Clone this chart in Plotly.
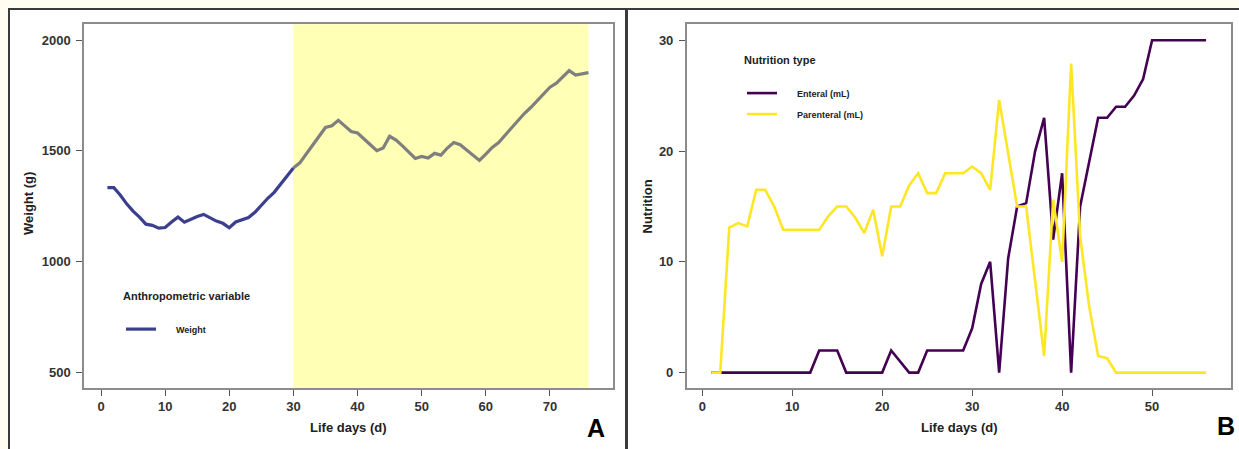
import plotly.graph_objects as go

# ---------------- data ----------------
weight_days = list(range(1, 77))
weight_g = [1333, 1333, 1300, 1260, 1227, 1200, 1168, 1163, 1150, 1153,
            1178, 1200, 1177, 1192, 1203, 1212, 1195, 1182, 1172, 1152,
            1178, 1188, 1198, 1222, 1255, 1285, 1312, 1350, 1385, 1422,
            1445, 1485, 1525, 1565, 1605, 1613, 1637, 1612, 1587, 1580,
            1555, 1527, 1500, 1512, 1565, 1548, 1522, 1495, 1465, 1474,
            1467, 1488, 1480, 1512, 1537, 1527, 1503, 1480, 1456, 1485,
            1515, 1537, 1570, 1605, 1640, 1668, 1695, 1725, 1757, 1787,
            1805, 1832, 1862, 1842, 1848, 1853]
split_day = 30          # start of highlighted period
highlight_end = 76

nutr_days = list(range(1, 57))
enteral = [0, 0, 0, 0, 0, 0, 0, 0, 0, 0,
           0, 0, 2, 2, 2, 0, 0, 0, 0, 0,
           2, 1, 0, 0, 2, 2, 2, 2, 2, 4,
           8, 10, 0, 10.3, 15, 15.3, 20, 23, 12, 18,
           0, 15, 19, 23, 23, 24, 24, 25, 26.5, 30,
           30, 30, 30, 30, 30, 30]
parenteral = [0, 0, 13.1, 13.5, 13.2, 16.5, 16.5, 15.0, 12.9, 12.9,
              12.9, 12.9, 12.9, 14.1, 15.0, 15.0, 14.0, 12.6, 14.7, 10.5,
              15.0, 15.0, 16.9, 18.0, 16.2, 16.2, 18.0, 18.0, 18.0, 18.6,
              18.0, 16.5, 24.6, 19.8, 15.0, 15.0, 8.2, 1.5, 15.6, 10.0,
              27.9, 12.3, 6.0, 1.5, 1.3, 0, 0, 0, 0, 0,
              0, 0, 0, 0, 0, 0]

weight_ticks = [500, 1000, 1500, 2000]
weight_xticks = [0, 10, 20, 30, 40, 50, 60, 70]
nutr_yticks = [0, 10, 20, 30]
nutr_xticks = [0, 10, 20, 30, 40, 50]

# ---------------- layout helpers ----------------
W, H = 1239, 449
def px(x):
    return x / W
def py(y):
    return 1 - y / H

FONT = "Liberation Sans, Arial, sans-serif"
TICKCOL = "#333333"
FRAME = "#8c8c8c"
BG = "#fffdf1"
PAD = "\u00a0" * 6   # gap between legend line and its label

fig = go.Figure()

i_split = weight_days.index(split_day)
fig.add_trace(go.Scatter(
    x=weight_days[:i_split + 1], y=weight_g[:i_split + 1], mode="lines",
    name=PAD + "Weight", line=dict(color="#3b3f8e", width=3.2),
    xaxis="x", yaxis="y", legend="legend"))
fig.add_trace(go.Scatter(
    x=weight_days[i_split:], y=weight_g[i_split:], mode="lines",
    name="Weight (highlighted)", showlegend=False,
    line=dict(color="#7f7f7f", width=3.2),
    xaxis="x", yaxis="y"))

fig.add_trace(go.Scatter(
    x=nutr_days, y=enteral, mode="lines", name=PAD + "Enteral (mL)",
    line=dict(color="#440154", width=2.6), legendgroup="ent",
    xaxis="x2", yaxis="y2", legend="legend2"))
fig.add_trace(go.Scatter(
    x=nutr_days, y=parenteral, mode="lines", name=PAD + "Parenteral (mL)",
    line=dict(color="#fde725", width=2.6), legendgroup="par",
    xaxis="x2", yaxis="y2", legend="legend2"))

ydom = [py(388), py(24.3)]
axis_common = dict(
    showgrid=False, zeroline=False, showline=True, mirror=True,
    linecolor=FRAME, linewidth=1.5, ticks="outside", ticklen=6,
    tickwidth=1.3, tickcolor="#555555",
    tickfont=dict(family=FONT, size=13, color=TICKCOL, weight="bold"),
)

title_font = dict(family=FONT, size=11, color="#222222", weight="bold")
item_font = dict(family=FONT, size=9, color="#222222", weight="bold")

fig.update_layout(
    width=W, height=H,
    margin=dict(l=0, r=0, t=0, b=0),
    paper_bgcolor=BG,
    plot_bgcolor="rgba(0,0,0,0)",
    xaxis=dict(domain=[px(84), px(612.7)], range=[-2.65, 79.78],
               tickvals=weight_xticks, anchor="y", ticklabelstandoff=0,
               **axis_common),
    yaxis=dict(domain=ydom, range=[428, 2071], tickvals=weight_ticks,
               anchor="x", ticklabelstandoff=3, **axis_common),
    xaxis2=dict(domain=[px(686.7), px(1231)], range=[-1.73, 58.77],
                tickvals=nutr_xticks, anchor="y2", ticklabelstandoff=0,
                **axis_common),
    yaxis2=dict(domain=ydom, range=[-1.39, 31.44], tickvals=nutr_yticks,
                anchor="x2", ticklabelstandoff=3, **axis_common),
    legend=dict(
        x=px(121), y=py(286), xanchor="left", yanchor="top",
        bgcolor="rgba(0,0,0,0)",
        title=dict(text="Anthropometric variable<br>&nbsp;", font=title_font),
        font=item_font, itemwidth=30,
    ),
    legend2=dict(
        x=px(742), y=py(50), xanchor="left", yanchor="top",
        bgcolor="rgba(0,0,0,0)",
        title=dict(text="Nutrition type<br>&nbsp;", font=title_font),
        font=item_font, itemwidth=30, tracegroupgap=2,
    ),
    showlegend=True,
)

# panel frames (white interiors with dark borders)
fig.add_shape(type="rect", xref="paper", yref="paper",
              x0=px(9), x1=px(626), y0=-0.05, y1=py(9),
              fillcolor="white", line=dict(color="#3a3a3a", width=2), layer="below")
fig.add_shape(type="rect", xref="paper", yref="paper",
              x0=px(627), x1=px(1245), y0=-0.05, y1=py(9),
              fillcolor="white", line=dict(color="#3a3a3a", width=2), layer="below")

# highlighted period in panel A
fig.add_shape(type="rect", xref="x", yref="y domain",
              x0=split_day, x1=highlight_end, y0=0, y1=1,
              fillcolor="#ffffb5", line=dict(width=0), layer="below")

ann_font = dict(family=FONT, size=13, color="#222222", weight="bold")
big_font = dict(family=FONT, size=25, color="#000000", weight="bold")
for txt, xx, yy, ang, fnt in [
    ("Weight (g)", 29, 204, -90, ann_font),
    ("Life days (d)", 348.5, 427, 0, ann_font),
    ("Nutrition", 646.5, 207, -90, ann_font),
    ("Life days (d)", 959, 427, 0, ann_font),
    ("A", 596, 428, 0, big_font),
    ("B", 1226, 426, 0, big_font),
]:
    fig.add_annotation(text=txt, x=px(xx), y=py(yy), xref="paper", yref="paper",
                       xanchor="center", yanchor="middle",
                       showarrow=False, textangle=ang, font=fnt)

fig.write_html(
    "out.html",
    config={"displayModeBar": False},
    post_script="document.body.style.margin='0';document.body.style.background='" + BG + "';",
)
